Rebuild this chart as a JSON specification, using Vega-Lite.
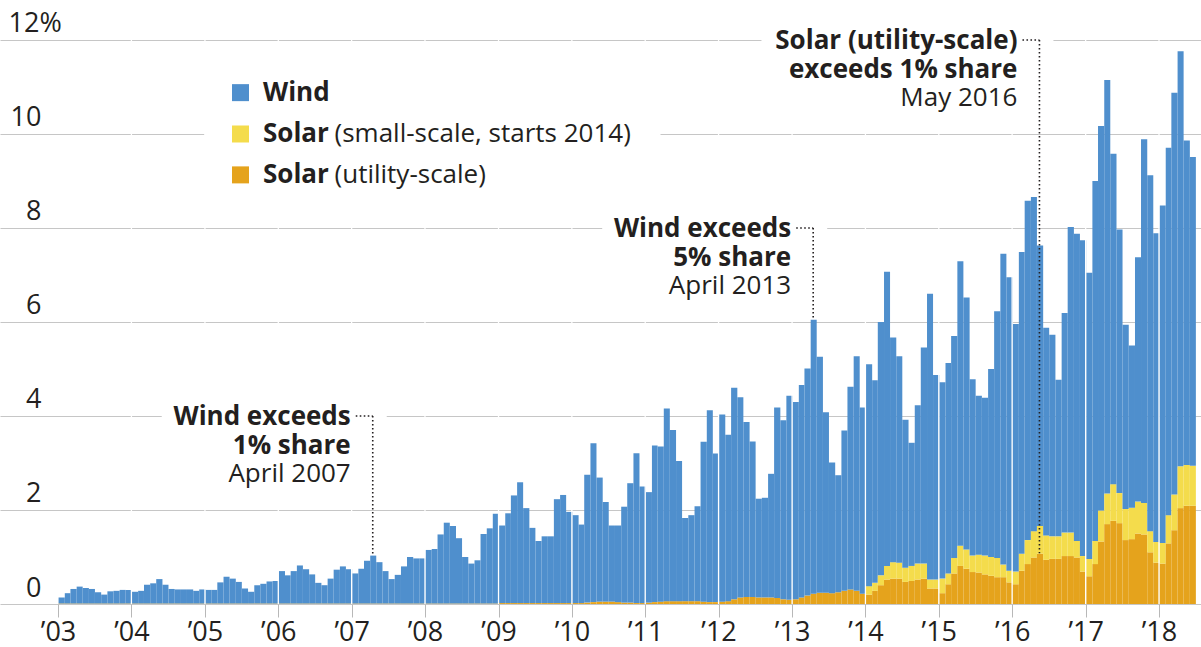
{
  "$schema": "https://vega.github.io/schema/vega-lite/v6.json",
  "width": 1201,
  "height": 604,
  "autosize": {"type": "none"},
  "padding": {"left": 0, "top": 0, "right": 0, "bottom": 43},
  "background": "white",
  "config": {
    "view": {"stroke": null},
    "font": "Open Sans",
    "legend": {"disable": true},
    "text": {"font": "Open Sans", "color": "#231f20"}
  },
  "data": {"values": [{}]},
  "datasets": {
    "share": [
      {"date":"2003-01","wind":0.13,"small":0,"utility":0.01},{"date":"2003-02","wind":0.22,"small":0,"utility":0.01},{"date":"2003-03","wind":0.31,"small":0,"utility":0.01},{"date":"2003-04","wind":0.36,"small":0,"utility":0.01},{"date":"2003-05","wind":0.33,"small":0,"utility":0.01},{"date":"2003-06","wind":0.31,"small":0,"utility":0.01},{"date":"2003-07","wind":0.24,"small":0,"utility":0.01},{"date":"2003-08","wind":0.19,"small":0,"utility":0.01},{"date":"2003-09","wind":0.26,"small":0,"utility":0.01},{"date":"2003-10","wind":0.27,"small":0,"utility":0.01},{"date":"2003-11","wind":0.29,"small":0,"utility":0.01},{"date":"2003-12","wind":0.29,"small":0,"utility":0.01},
      {"date":"2004-01","wind":0.25,"small":0,"utility":0.01},{"date":"2004-02","wind":0.27,"small":0,"utility":0.01},{"date":"2004-03","wind":0.40,"small":0,"utility":0.01},{"date":"2004-04","wind":0.43,"small":0,"utility":0.01},{"date":"2004-05","wind":0.52,"small":0,"utility":0.01},{"date":"2004-06","wind":0.40,"small":0,"utility":0.01},{"date":"2004-07","wind":0.31,"small":0,"utility":0.01},{"date":"2004-08","wind":0.30,"small":0,"utility":0.01},{"date":"2004-09","wind":0.30,"small":0,"utility":0.01},{"date":"2004-10","wind":0.30,"small":0,"utility":0.01},{"date":"2004-11","wind":0.27,"small":0,"utility":0.01},{"date":"2004-12","wind":0.30,"small":0,"utility":0.01},
      {"date":"2005-01","wind":0.29,"small":0,"utility":0.01},{"date":"2005-02","wind":0.29,"small":0,"utility":0.01},{"date":"2005-03","wind":0.45,"small":0,"utility":0.01},{"date":"2005-04","wind":0.57,"small":0,"utility":0.01},{"date":"2005-05","wind":0.53,"small":0,"utility":0.01},{"date":"2005-06","wind":0.46,"small":0,"utility":0.01},{"date":"2005-07","wind":0.32,"small":0,"utility":0.01},{"date":"2005-08","wind":0.25,"small":0,"utility":0.01},{"date":"2005-09","wind":0.39,"small":0,"utility":0.01},{"date":"2005-10","wind":0.42,"small":0,"utility":0.01},{"date":"2005-11","wind":0.47,"small":0,"utility":0.01},{"date":"2005-12","wind":0.48,"small":0,"utility":0.01},
      {"date":"2006-01","wind":0.69,"small":0,"utility":0.01},{"date":"2006-02","wind":0.60,"small":0,"utility":0.01},{"date":"2006-03","wind":0.69,"small":0,"utility":0.01},{"date":"2006-04","wind":0.81,"small":0,"utility":0.01},{"date":"2006-05","wind":0.73,"small":0,"utility":0.01},{"date":"2006-06","wind":0.62,"small":0,"utility":0.01},{"date":"2006-07","wind":0.44,"small":0,"utility":0.01},{"date":"2006-08","wind":0.39,"small":0,"utility":0.01},{"date":"2006-09","wind":0.53,"small":0,"utility":0.01},{"date":"2006-10","wind":0.72,"small":0,"utility":0.01},{"date":"2006-11","wind":0.79,"small":0,"utility":0.01},{"date":"2006-12","wind":0.73,"small":0,"utility":0.01},
      {"date":"2007-01","wind":0.64,"small":0,"utility":0.01},{"date":"2007-02","wind":0.74,"small":0,"utility":0.01},{"date":"2007-03","wind":0.91,"small":0,"utility":0.01},{"date":"2007-04","wind":1.02,"small":0,"utility":0.01},{"date":"2007-05","wind":0.88,"small":0,"utility":0.01},{"date":"2007-06","wind":0.69,"small":0,"utility":0.01},{"date":"2007-07","wind":0.52,"small":0,"utility":0.01},{"date":"2007-08","wind":0.61,"small":0,"utility":0.01},{"date":"2007-09","wind":0.79,"small":0,"utility":0.01},{"date":"2007-10","wind":0.99,"small":0,"utility":0.01},{"date":"2007-11","wind":0.96,"small":0,"utility":0.01},{"date":"2007-12","wind":0.96,"small":0,"utility":0.01},
      {"date":"2008-01","wind":1.14,"small":0,"utility":0.01},{"date":"2008-02","wind":1.16,"small":0,"utility":0.01},{"date":"2008-03","wind":1.47,"small":0,"utility":0.01},{"date":"2008-04","wind":1.72,"small":0,"utility":0.01},{"date":"2008-05","wind":1.65,"small":0,"utility":0.01},{"date":"2008-06","wind":1.39,"small":0,"utility":0.01},{"date":"2008-07","wind":0.99,"small":0,"utility":0.01},{"date":"2008-08","wind":0.85,"small":0,"utility":0.01},{"date":"2008-09","wind":0.92,"small":0,"utility":0.01},{"date":"2008-10","wind":1.48,"small":0,"utility":0.01},{"date":"2008-11","wind":1.60,"small":0,"utility":0.01},{"date":"2008-12","wind":1.91,"small":0,"utility":0.01},
      {"date":"2009-01","wind":1.65,"small":0,"utility":0.02},{"date":"2009-02","wind":1.91,"small":0,"utility":0.02},{"date":"2009-03","wind":2.29,"small":0,"utility":0.02},{"date":"2009-04","wind":2.57,"small":0,"utility":0.02},{"date":"2009-05","wind":2.02,"small":0,"utility":0.02},{"date":"2009-06","wind":1.60,"small":0,"utility":0.02},{"date":"2009-07","wind":1.32,"small":0,"utility":0.02},{"date":"2009-08","wind":1.42,"small":0,"utility":0.02},{"date":"2009-09","wind":1.42,"small":0,"utility":0.02},{"date":"2009-10","wind":2.21,"small":0,"utility":0.02},{"date":"2009-11","wind":2.30,"small":0,"utility":0.02},{"date":"2009-12","wind":1.94,"small":0,"utility":0.02},
      {"date":"2010-01","wind":1.87,"small":0,"utility":0.02},{"date":"2010-02","wind":1.67,"small":0,"utility":0.02},{"date":"2010-03","wind":2.72,"small":0,"utility":0.03},{"date":"2010-04","wind":3.38,"small":0,"utility":0.04},{"date":"2010-05","wind":2.64,"small":0,"utility":0.05},{"date":"2010-06","wind":2.12,"small":0,"utility":0.05},{"date":"2010-07","wind":1.62,"small":0,"utility":0.05},{"date":"2010-08","wind":1.63,"small":0,"utility":0.04},{"date":"2010-09","wind":2.04,"small":0,"utility":0.03},{"date":"2010-10","wind":2.54,"small":0,"utility":0.03},{"date":"2010-11","wind":3.19,"small":0,"utility":0.02},{"date":"2010-12","wind":2.48,"small":0,"utility":0.02},
      {"date":"2011-01","wind":2.35,"small":0,"utility":0.03},{"date":"2011-02","wind":3.33,"small":0,"utility":0.04},{"date":"2011-03","wind":3.30,"small":0,"utility":0.05},{"date":"2011-04","wind":4.10,"small":0,"utility":0.06},{"date":"2011-05","wind":3.64,"small":0,"utility":0.06},{"date":"2011-06","wind":2.98,"small":0,"utility":0.06},{"date":"2011-07","wind":1.77,"small":0,"utility":0.06},{"date":"2011-08","wind":1.83,"small":0,"utility":0.06},{"date":"2011-09","wind":2.02,"small":0,"utility":0.06},{"date":"2011-10","wind":3.40,"small":0,"utility":0.05},{"date":"2011-11","wind":4.08,"small":0,"utility":0.04},{"date":"2011-12","wind":3.16,"small":0,"utility":0.04},
      {"date":"2012-01","wind":3.98,"small":0,"utility":0.05},{"date":"2012-02","wind":3.54,"small":0,"utility":0.06},{"date":"2012-03","wind":4.50,"small":0,"utility":0.10},{"date":"2012-04","wind":4.26,"small":0,"utility":0.14},{"date":"2012-05","wind":3.72,"small":0,"utility":0.15},{"date":"2012-06","wind":3.31,"small":0,"utility":0.15},{"date":"2012-07","wind":2.10,"small":0,"utility":0.14},{"date":"2012-08","wind":2.12,"small":0,"utility":0.14},{"date":"2012-09","wind":2.63,"small":0,"utility":0.14},{"date":"2012-10","wind":4.05,"small":0,"utility":0.13},{"date":"2012-11","wind":3.81,"small":0,"utility":0.10},{"date":"2012-12","wind":4.34,"small":0,"utility":0.09},
      {"date":"2013-01","wind":4.20,"small":0,"utility":0.10},{"date":"2013-02","wind":4.52,"small":0,"utility":0.14},{"date":"2013-03","wind":4.83,"small":0,"utility":0.18},{"date":"2013-04","wind":5.83,"small":0,"utility":0.22},{"date":"2013-05","wind":5.02,"small":0,"utility":0.24},{"date":"2013-06","wind":3.84,"small":0,"utility":0.24},{"date":"2013-07","wind":2.78,"small":0,"utility":0.23},{"date":"2013-08","wind":2.49,"small":0,"utility":0.25},{"date":"2013-09","wind":3.41,"small":0,"utility":0.28},{"date":"2013-10","wind":4.31,"small":0,"utility":0.31},{"date":"2013-11","wind":4.99,"small":0,"utility":0.28},{"date":"2013-12","wind":3.96,"small":0,"utility":0.22},
      {"date":"2014-01","wind":4.72,"small":0.18,"utility":0.20},{"date":"2014-02","wind":4.31,"small":0.17,"utility":0.28},{"date":"2014-03","wind":5.39,"small":0.21,"utility":0.40},{"date":"2014-04","wind":6.26,"small":0.29,"utility":0.52},{"date":"2014-05","wind":4.78,"small":0.35,"utility":0.54},{"date":"2014-06","wind":4.39,"small":0.34,"utility":0.54},{"date":"2014-07","wind":3.15,"small":0.30,"utility":0.47},{"date":"2014-08","wind":2.62,"small":0.32,"utility":0.49},{"date":"2014-09","wind":3.37,"small":0.34,"utility":0.52},{"date":"2014-10","wind":4.60,"small":0.32,"utility":0.54},{"date":"2014-11","wind":6.08,"small":0.19,"utility":0.33},{"date":"2014-12","wind":4.35,"small":0.19,"utility":0.33},
      {"date":"2015-01","wind":4.18,"small":0.31,"utility":0.23},{"date":"2015-02","wind":4.48,"small":0.23,"utility":0.42},{"date":"2015-03","wind":4.72,"small":0.33,"utility":0.65},{"date":"2015-04","wind":6.05,"small":0.43,"utility":0.81},{"date":"2015-05","wind":5.36,"small":0.41,"utility":0.75},{"date":"2015-06","wind":3.75,"small":0.35,"utility":0.68},{"date":"2015-07","wind":3.38,"small":0.38,"utility":0.67},{"date":"2015-08","wind":3.36,"small":0.40,"utility":0.63},{"date":"2015-09","wind":4.00,"small":0.40,"utility":0.60},{"date":"2015-10","wind":5.25,"small":0.41,"utility":0.57},{"date":"2015-11","wind":6.61,"small":0.27,"utility":0.57},{"date":"2015-12","wind":6.24,"small":0.25,"utility":0.46},
      {"date":"2016-01","wind":5.27,"small":0.27,"utility":0.42},{"date":"2016-02","wind":6.42,"small":0.36,"utility":0.71},{"date":"2016-03","wind":7.22,"small":0.51,"utility":0.85},{"date":"2016-04","wind":7.11,"small":0.56,"utility":0.99},{"date":"2016-05","wind":5.97,"small":0.59,"utility":1.07},{"date":"2016-06","wind":4.42,"small":0.52,"utility":0.94},{"date":"2016-07","wind":4.29,"small":0.48,"utility":0.96},{"date":"2016-08","wind":3.33,"small":0.48,"utility":0.96},{"date":"2016-09","wind":4.67,"small":0.50,"utility":1.02},{"date":"2016-10","wind":6.50,"small":0.50,"utility":1.02},{"date":"2016-11","wind":6.54,"small":0.35,"utility":0.99},{"date":"2016-12","wind":6.72,"small":0.33,"utility":0.69},
      {"date":"2017-01","wind":6.09,"small":0.37,"utility":0.59},{"date":"2017-02","wind":7.66,"small":0.49,"utility":0.85},{"date":"2017-03","wind":8.18,"small":0.66,"utility":1.33},{"date":"2017-04","wind":8.80,"small":0.65,"utility":1.70},{"date":"2017-05","wind":7.03,"small":0.78,"utility":1.77},{"date":"2017-06","wind":5.61,"small":0.64,"utility":1.72},{"date":"2017-07","wind":3.92,"small":0.66,"utility":1.36},{"date":"2017-08","wind":3.45,"small":0.67,"utility":1.38},{"date":"2017-09","wind":5.20,"small":0.68,"utility":1.50},{"date":"2017-10","wind":7.74,"small":0.67,"utility":1.48},{"date":"2017-11","wind":7.57,"small":0.45,"utility":1.10},{"date":"2017-12","wind":6.57,"small":0.44,"utility":0.88},
      {"date":"2018-01","wind":7.18,"small":0.44,"utility":0.86},{"date":"2018-02","wind":7.82,"small":0.60,"utility":1.29},{"date":"2018-03","wind":8.55,"small":0.76,"utility":1.57},{"date":"2018-04","wind":8.83,"small":0.89,"utility":2.04},{"date":"2018-05","wind":6.90,"small":0.87,"utility":2.09},{"date":"2018-06","wind":6.57,"small":0.85,"utility":2.09}
    ],
    "notes": [
      {"date":"2007-04-16","level":4,"end":1.03,"head":["Wind exceeds","1% share"],"sub":"April 2007"},
      {"date":"2013-04-16","level":8,"end":6.05,"head":["Wind exceeds","5% share"],"sub":"April 2013"},
      {"date":"2016-05-16","level":12,"end":1.08,"head":["Solar (utility-scale)","exceeds 1% share"],"sub":"May 2016"}
    ]
  },
  "layer": [
    {
      "data": {"name": "share"},
      "transform": [
        {"fold": ["utility", "small", "wind"], "as": ["source", "share"]},
        {"calculate": "indexof(['utility','small','wind'], datum.source)", "as": "stackOrder"}
      ],
      "mark": {"type": "bar", "binSpacing": 0},
      "encoding": {
        "x": {
          "field": "date", "timeUnit": "utcyearmonth", "type": "temporal",
          "scale": {"type": "utc", "domain": [{"year": 2002, "month": 3, "date": 18, "utc": true}, {"year": 2018, "month": 7, "date": 29, "utc": true}]},
          "axis": {
            "values": [{"year":2003,"utc":true},{"year":2004,"utc":true},{"year":2005,"utc":true},{"year":2006,"utc":true},{"year":2007,"utc":true},{"year":2008,"utc":true},{"year":2009,"utc":true},{"year":2010,"utc":true},{"year":2011,"utc":true},{"year":2012,"utc":true},{"year":2013,"utc":true},{"year":2014,"utc":true},{"year":2015,"utc":true},{"year":2016,"utc":true},{"year":2017,"utc":true},{"year":2018,"utc":true}],
            "labelExpr": "'’' + utcFormat(datum.value, '%y')",
            "title": null, "domain": false, "grid": false,
            "ticks": true, "tickSize": 13, "tickColor": "#b8b8b8", "tickWidth": 1,
            "labelFont": "Open Sans", "labelFontSize": 27, "labelColor": "#231f20",
            "labelPadding": 2, "labelFlush": false, "labelOverlap": false
          }
        },
        "y": {
          "field": "share", "type": "quantitative", "stack": "zero",
          "scale": {"domain": [0, 12.851], "nice": false},
          "axis": {
            "values": [0, 2, 4, 6, 8, 10, 12],
            "title": null, "domain": false, "ticks": false, "tickSize": 0,
            "grid": true, "gridColor": "#c6c6c6", "gridWidth": 1,
            "labelExpr": "datum.value == 12 ? '12%' : datum.label",
            "labelAlign": {"condition": {"test": "datum.value == 12", "value": "left"}, "value": "right"},
            "labelPadding": {"condition": {"test": "datum.value == 12", "value": -8}, "value": -41},
            "labelBaseline": "alphabetic", "labelOffset": -8,
            "labelFont": "Open Sans", "labelFontSize": 27, "labelColor": "#231f20"
          }
        },
        "color": {
          "field": "source", "type": "nominal",
          "scale": {"domain": ["wind", "small", "utility"], "range": ["#4f8fcd", "#f4dc4c", "#e5a31c"]},
          "legend": null
        },
        "order": {"field": "stackOrder", "type": "quantitative"}
      }
    },
    {
      "data": {"name": "share"},
      "transform": [{"filter": "utcmonth(toDate(datum.date)) == 0 && utcyear(toDate(datum.date)) > 2003"}],
      "mark": {"type": "rule", "color": "white", "strokeWidth": 1.3},
      "encoding": {"x": {"field": "date", "type": "temporal"}}
    },
    {
      "mark": {"type": "rule", "color": "white", "strokeWidth": 4, "xOffset": -36, "x2Offset": 420},
      "encoding": {
        "x": {"datum": {"year": 2005, "month": 6, "date": 27, "utc": true}, "type": "temporal"},
        "x2": {"datum": {"year": 2005, "month": 6, "date": 27, "utc": true}},
        "y": {"datum": 10, "type": "quantitative"}
      }
    },
    {
      "data": {"name": "notes"},
      "transform": [{"filter": "length(datum.head[0]) < 15"}],
      "mark": {"type": "rule", "color": "white", "strokeWidth": 4, "xOffset": -211, "x2Offset": 14},
      "encoding": {
        "x": {"field": "date", "type": "temporal"},
        "x2": {"field": "date"},
        "y": {"field": "level", "type": "quantitative"}
      }
    },
    {
      "data": {"name": "notes"},
      "transform": [{"filter": "length(datum.head[0]) >= 15"}],
      "mark": {"type": "rule", "color": "white", "strokeWidth": 4, "xOffset": -278, "x2Offset": 14},
      "encoding": {
        "x": {"field": "date", "type": "temporal"},
        "x2": {"field": "date"},
        "y": {"field": "level", "type": "quantitative"}
      }
    },
    {
      "data": {"name": "notes"},
      "mark": {"type": "rule", "color": "#231f20", "strokeWidth": 1.6, "strokeDash": [1.6, 2.4], "xOffset": -17},
      "encoding": {
        "x": {"field": "date", "type": "temporal"},
        "x2": {"field": "date"},
        "y": {"field": "level", "type": "quantitative"}
      }
    },
    {
      "data": {"name": "notes"},
      "mark": {"type": "rule", "color": "#231f20", "strokeWidth": 1.6, "strokeDash": [1.6, 2.4]},
      "encoding": {
        "x": {"field": "date", "type": "temporal"},
        "y": {"field": "level", "type": "quantitative"},
        "y2": {"field": "end"}
      }
    },
    {
      "data": {"name": "notes"},
      "mark": {"type": "text", "align": "right", "baseline": "alphabetic", "dx": -22, "dy": 9, "fontSize": 26, "fontWeight": "bold", "lineHeight": 29, "color": "#231f20"},
      "encoding": {
        "x": {"field": "date", "type": "temporal"},
        "y": {"field": "level", "type": "quantitative"},
        "text": {"field": "head"}
      }
    },
    {
      "data": {"name": "notes"},
      "mark": {"type": "text", "align": "right", "baseline": "alphabetic", "dx": -22, "dy": 66, "fontSize": 26, "fontWeight": "normal", "color": "#231f20"},
      "encoding": {
        "x": {"field": "date", "type": "temporal"},
        "y": {"field": "level", "type": "quantitative"},
        "text": {"field": "sub"}
      }
    },
    {
      "mark": {"type": "point", "shape": "square", "filled": true, "size": 289, "opacity": 1},
      "encoding": {
        "x": {"datum": {"year": 2005, "month": 6, "date": 27, "utc": true}, "type": "temporal"},
        "y": {"datum": 10.88, "type": "quantitative"},
        "color": {"datum": "wind", "type": "nominal"}
      }
    },
    {
      "mark": {"type": "point", "shape": "square", "filled": true, "size": 289, "opacity": 1},
      "encoding": {
        "x": {"datum": {"year": 2005, "month": 6, "date": 27, "utc": true}, "type": "temporal"},
        "y": {"datum": 10, "type": "quantitative"},
        "color": {"datum": "small", "type": "nominal"}
      }
    },
    {
      "mark": {"type": "point", "shape": "square", "filled": true, "size": 289, "opacity": 1},
      "encoding": {
        "x": {"datum": {"year": 2005, "month": 6, "date": 27, "utc": true}, "type": "temporal"},
        "y": {"datum": 9.13, "type": "quantitative"},
        "color": {"datum": "utility", "type": "nominal"}
      }
    },
    {
      "mark": {"type": "text", "align": "left", "baseline": "middle", "dx": 22.5, "fontSize": 26, "fontWeight": "bold", "color": "#231f20"},
      "encoding": {
        "x": {"datum": {"year": 2005, "month": 6, "date": 27, "utc": true}, "type": "temporal"},
        "y": {"datum": 10.88, "type": "quantitative"},
        "text": {"value": "Wind"}
      }
    },
    {
      "mark": {"type": "text", "align": "left", "baseline": "middle", "dx": 22.5, "fontSize": 26, "fontWeight": "bold", "color": "#231f20"},
      "encoding": {
        "x": {"datum": {"year": 2005, "month": 6, "date": 27, "utc": true}, "type": "temporal"},
        "y": {"datum": 10, "type": "quantitative"},
        "text": {"value": "Solar"}
      }
    },
    {
      "mark": {"type": "text", "align": "left", "baseline": "middle", "dx": 22.5, "fontSize": 26, "fontWeight": "bold", "color": "#231f20"},
      "encoding": {
        "x": {"datum": {"year": 2005, "month": 6, "date": 27, "utc": true}, "type": "temporal"},
        "y": {"datum": 9.13, "type": "quantitative"},
        "text": {"value": "Solar"}
      }
    },
    {
      "mark": {"type": "text", "align": "left", "baseline": "middle", "dx": 94, "fontSize": 26, "fontWeight": "normal", "color": "#231f20"},
      "encoding": {
        "x": {"datum": {"year": 2005, "month": 6, "date": 27, "utc": true}, "type": "temporal"},
        "y": {"datum": 10, "type": "quantitative"},
        "text": {"value": "(small-scale, starts 2014)"}
      }
    },
    {
      "mark": {"type": "text", "align": "left", "baseline": "middle", "dx": 94, "fontSize": 26, "fontWeight": "normal", "color": "#231f20"},
      "encoding": {
        "x": {"datum": {"year": 2005, "month": 6, "date": 27, "utc": true}, "type": "temporal"},
        "y": {"datum": 9.13, "type": "quantitative"},
        "text": {"value": "(utility-scale)"}
      }
    }
  ]
}
